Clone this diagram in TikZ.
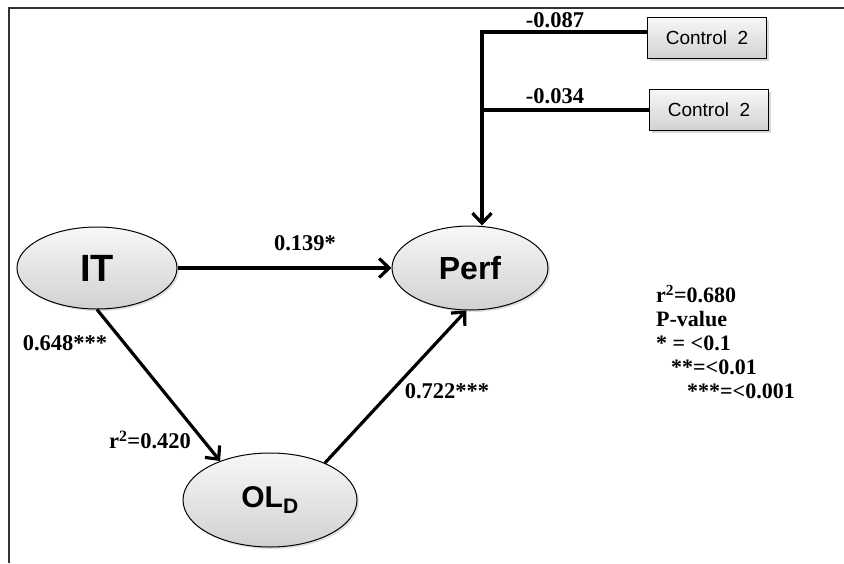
\documentclass[tikz,border=0pt]{standalone}
\usepackage{fontspec}
\setmainfont{Liberation Serif}
\newfontfamily\latentfont{Liberation Sans}
\usepackage{tikz}
\usetikzlibrary{arrows.meta,shadows,shapes.geometric}
\colorlet{shadeTop}{gray!6}
\colorlet{shadeBottom}{gray!36}
\colorlet{frameLine}{black!80}

\begin{document}
\begin{tikzpicture}[
  x=1pt, y=-1pt,
  every latent/.style={
    ellipse,
    draw=black,
    line width=1pt,
    top color=shadeTop,
    bottom color=shadeBottom,
    drop shadow={opacity=0.25, shadow xshift=2pt, shadow yshift=-2pt},
    inner sep=0pt,
    font=\latentfont\bfseries,
  },
  every control/.style={
    rectangle,
    draw=black,
    line width=1.2pt,
    top color=shadeTop,
    bottom color=shadeBottom,
    drop shadow={opacity=0.3, shadow xshift=2pt, shadow yshift=-2pt},
    minimum width=119pt,
    minimum height=41pt,
    font=\latentfont\fontsize{19}{20}\selectfont,
  },
  every path label/.style={
    font=\bfseries\fontsize{22.5}{24}\selectfont,
    inner sep=0pt,
  },
  path line/.style={
    line width=3.2pt,
  },
  path arrow/.style={
    path line,
    -{Straight Barb[length=10pt,width=19pt]},
  },
]
\useasboundingbox (0,0) rectangle (844,563);
\draw[frameLine, line width=1.5pt] (9,563) -- (9,8) -- (844,8);

% latent variables
\node[every latent, minimum width=160pt, minimum height=82pt,
  font=\latentfont\bfseries\fontsize{38}{40}\selectfont] (IT) at (97,268) {IT};
\node[every latent, minimum width=156pt, minimum height=84pt,
  font=\latentfont\bfseries\fontsize{32}{34}\selectfont] (Perf) at (470,268) {Perf};
\node[every latent, minimum width=174pt, minimum height=94pt,
  font=\latentfont\bfseries\fontsize{30}{32}\selectfont] (OL) at (270,500) {OL\textsubscript{D}};

% controls
\node[every control] (ctrlA) at (707,38) {Control\ \ 2};
\node[every control] (ctrlB) at (709,110) {Control\ \ 2};
\coordinate (junction) at (482,32);

% paths
\draw[path arrow] (IT.east) -- (Perf.west);
\draw[path arrow] (IT.south) -- (OL.142);
\draw[path arrow] (OL.34) -- (Perf.265);
\draw[path arrow] (ctrlA.west |- junction) -- (junction) -- (junction |- Perf.north);
\draw[path line] (ctrlB.west) -- (ctrlB.west -| junction);

% coefficients
\node[every path label] (lblA) at (555,20) {-0.087};
\node[every path label] (lblB) at (555,96) {-0.034};
\node[every path label] (lblIP) at (305,243) {0.139*};
\node[every path label] (lblIO) at (65,343) {0.648***};
\node[every path label] (lblRo) at (150,440) {r\textsuperscript{2}=0.420};
\node[every path label] (lblOP) at (447,391) {0.722***};

% legend
\node[every path label, anchor=north west, align=left,
  font=\bfseries\fontsize{22}{24}\selectfont] (legend) at (656,285)
  {r\textsuperscript{2}=0.680\\
   P-value\\
   * = <0.1\\
   \hspace*{15pt}**=<0.01\\
   \hspace*{31pt}***=<0.001};
\end{tikzpicture}
\end{document}
